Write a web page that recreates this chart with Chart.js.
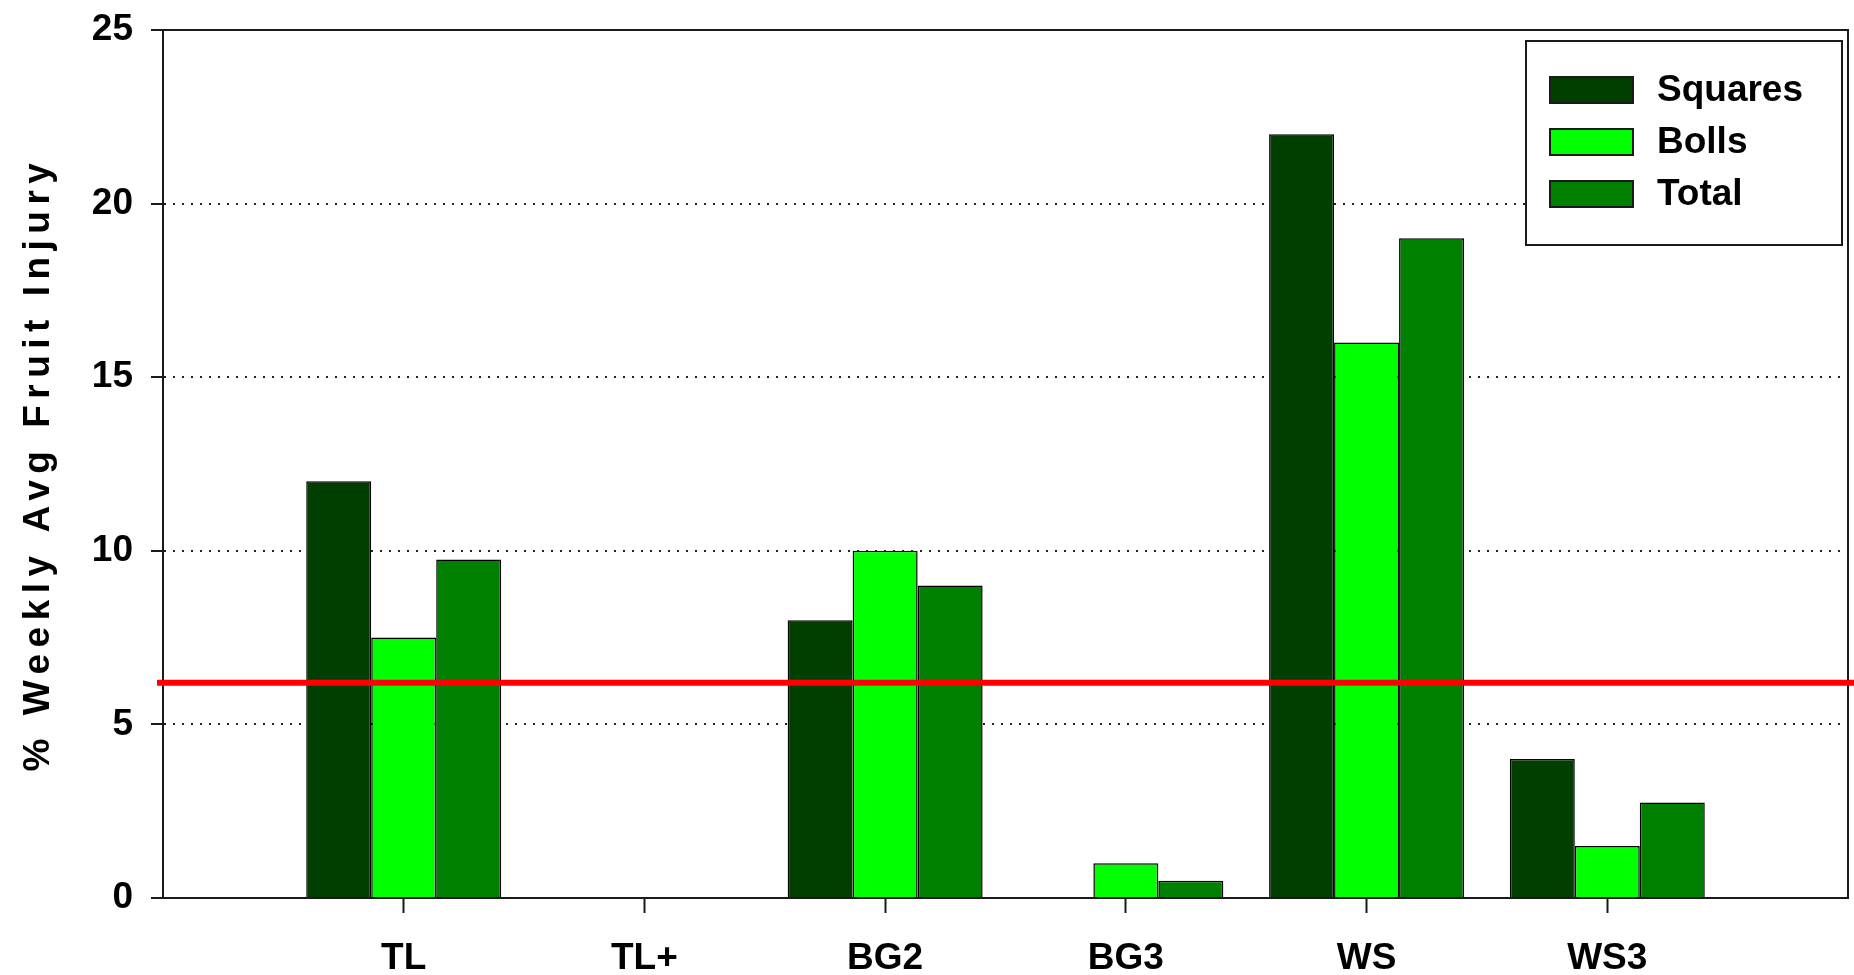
<!DOCTYPE html>
<html>
<head>
<meta charset="utf-8">
<style>
  html, body { margin: 0; padding: 0; background: #fff; }
  #wrap { width: 1854px; height: 975px; }
</style>
<script src="https://cdn.jsdelivr.net/npm/chart.js@4.4.1/dist/chart.umd.min.js"></script>
</head>
<body>
<div id="wrap"><canvas id="injury-chart"></canvas></div>
<script>
const categories = ["TL", "TL+", "BG2", "BG3", "WS", "WS3"];
const squares = [12, 0, 8, 0, 22, 4];
const bolls = [7.5, 0, 10, 1, 16, 1.5];
const total = [9.75, 0, 9, 0.5, 19, 2.75];
const seriesNames = ["Squares", "Bolls", "Total"];
const seriesColors = ["#003f00", "#00ff00", "#007f00"];
const threshold = 6.2;
const yTitle = "% Weekly Avg Fruit Injury";

const fontFamily = "'Liberation Sans', Arial, sans-serif";

// empty slot on each side so the six groups sit at 1..6 of a 0..7 axis
const labels = ["", ...categories, ""];
const pad = (arr) => [null, ...arr, null];

const boxPlugin = {
    id: "boxAndThreshold",
    afterDatasetsDraw(chart) {
        const { ctx, chartArea: a, scales } = chart;
        ctx.save();
        ctx.strokeStyle = "#1a1a1a";
        ctx.lineWidth = 2;
        ctx.beginPath();
        ctx.moveTo(a.left, a.top);
        ctx.lineTo(a.right, a.top);
        ctx.lineTo(a.right, a.bottom);
        ctx.stroke();

        const y = scales.y.getPixelForValue(threshold);
        ctx.strokeStyle = "#ff0000";
        ctx.lineWidth = 6;
        ctx.beginPath();
        ctx.moveTo(a.left - 6, y);
        ctx.lineTo(chart.width, y);
        ctx.stroke();
        ctx.restore();
    },
    afterDraw(chart) {
        const { ctx, chartArea: a } = chart;
        ctx.save();
        // legend
        ctx.strokeStyle = "#1a1a1a";
        ctx.lineWidth = 2;
        ctx.fillStyle = "#fff";
        ctx.fillRect(1526, 41, 316, 204);
        ctx.strokeRect(1526, 41, 316, 204);
        ctx.font = "bold 37px " + fontFamily;
        ctx.textBaseline = "middle";
        chart.data.datasets.forEach((ds, i) => {
            const cy = 90 + i * 52;
            ctx.fillStyle = ds.backgroundColor;
            ctx.fillRect(1550, cy - 13, 83, 26);
            ctx.lineWidth = 2;
            ctx.strokeRect(1550, cy - 13, 83, 26);
            ctx.fillStyle = "#000";
            ctx.fillText(ds.label, 1657, cy + 1);
        });
        // y axis title
        ctx.translate(39, (a.top + a.bottom) / 2);
        ctx.rotate(-Math.PI / 2);
        ctx.letterSpacing = "6.5px";
        ctx.textAlign = "center";
        ctx.fillStyle = "#000";
        ctx.fillText(yTitle, 0, 0);
        ctx.restore();
    }
};

const injuryContext = document.getElementById("injury-chart");

const injuryData = {
    labels: labels,
    datasets: [squares, bolls, total].map((values, i) => ({
        label: seriesNames[i],
        data: pad(values),
        backgroundColor: seriesColors[i],
        borderColor: "#000",
        borderWidth: 1.5,
        categoryPercentage: 0.81,
        barPercentage: 1.0,
    })),
};

const injuryConfig = {
    type: "bar",
    data: injuryData,
    options: {
        responsive: true,
        maintainAspectRatio: false,
        animation: false,
        layout: { padding: { top: 30, right: 6, left: 0, bottom: 0 } },
        plugins: {
            legend: { display: false },
            tooltip: { enabled: false },
        },
        scales: {
            x: {
                offset: false,
                afterFit: (axis) => {
                    axis.height = 77;
                    axis.paddingLeft = 0;
                    axis.paddingRight = 0;
                },
                grid: {
                    offset: false,
                    drawOnChartArea: false,
                    tickLength: 15,
                    tickWidth: 2,
                    tickColor: (c) => (c.index === 0 || c.index === labels.length - 1) ? "rgba(0,0,0,0)" : "#1a1a1a",
                },
                border: { color: "#1a1a1a", width: 2 },
                ticks: {
                    color: "#000",
                    autoSkip: false,
                    maxRotation: 0,
                    padding: 24,
                    font: { family: fontFamily, size: 37, weight: "bold" },
                },
            },
            y: {
                min: 0,
                max: 25,
                afterFit: (axis) => {
                    axis.width = 163;
                    axis.paddingTop = 0;
                    axis.paddingBottom = 0;
                },
                grid: {
                    color: (c) => (c.tick && (c.tick.value === 0 || c.tick.value === 25)) ? "rgba(0,0,0,0)" : "#222",
                    lineWidth: 2,
                    tickBorderDash: [],
                    tickColor: "#1a1a1a",
                    tickWidth: 2,
                    tickLength: 12,
                },
                border: { color: "#1a1a1a", width: 2, dash: [2, 7] },
                ticks: {
                    stepSize: 5,
                    color: "#000",
                    padding: 18,
                    font: { family: fontFamily, size: 37, weight: "bold" },
                },
            },
        },
    },
    plugins: [boxPlugin],
};

const injuryChart = new Chart(injuryContext, injuryConfig);
</script>
</body>
</html>
